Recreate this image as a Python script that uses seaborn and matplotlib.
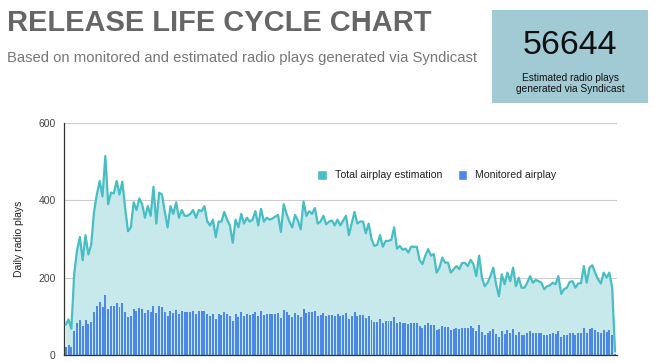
import matplotlib
matplotlib.use("Agg")
import matplotlib.pyplot as plt
from matplotlib.patches import Patch, Rectangle
import numpy as np
import pandas as pd
import seaborn as sns

# daily values, one per day
total_airplay = [
    78, 92, 68, 210, 270, 305, 245, 310, 260, 285, 370, 415, 450, 410, 515, 390, 420, 418, 450, 415,
    448, 380, 320, 330, 395, 375, 405, 390, 355, 385, 360, 435, 340, 420, 415, 370, 330, 385, 365, 395,
    355, 375, 360, 360, 365, 375, 355, 375, 372, 385, 345, 335, 350, 305, 345,
    345, 370, 350, 335, 290, 350, 330, 365, 340, 355, 345, 350, 372, 335, 378, 345, 355, 350, 353, 358,
    362, 318, 390, 365, 345, 330, 362, 348, 325, 397, 360, 372, 365, 380, 340, 345, 360, 338, 345, 348,
    335, 350, 335, 348, 360, 310, 340, 370, 340, 345, 345, 315, 340, 300, 282, 285, 310, 280, 295, 295,
    298, 330, 275, 282, 272, 275, 265, 280, 280, 280, 245,
    235, 257, 274, 257, 261, 213, 226, 252, 239, 239, 213, 222, 230, 222, 238, 238, 230, 246, 235, 204,
    257, 200, 178, 187, 204, 226, 183, 152, 209, 183, 213, 191, 226, 178, 200, 174, 174, 187, 204, 187,
    194, 191, 187, 170, 178, 180, 187, 183, 204, 158, 170, 174, 189, 191, 174, 185, 186, 230, 187, 226,
    232, 213, 196, 185, 213, 200, 213, 174, 9,
]
monitored_airplay = [
    20, 25, 20, 63, 82, 90, 75, 90, 80, 85, 110, 128, 137, 125, 155, 118, 128, 128, 135, 125,
    135, 110, 97, 100, 118, 113, 122, 118, 108, 117, 110, 128, 108, 127, 125, 112, 100, 113, 108, 117,
    107, 113, 110, 110, 112, 113, 107, 113, 113, 115, 105, 100, 107, 93, 105,
    104, 111, 105, 101, 87, 105, 99, 110, 102, 107, 104, 105, 112, 101, 113, 104, 107, 105, 106, 107,
    109, 95, 117, 110, 104, 99, 109, 104, 98, 119, 108, 112, 110, 114, 102, 104, 108, 101, 104, 104,
    101, 105, 101, 104, 108, 93, 102, 111, 102, 104, 104, 95, 102, 90, 85, 86, 93, 84, 89, 89,
    89, 99, 83, 85, 82, 83, 80, 84, 84, 84, 74,
    71, 77, 82, 77, 78, 64, 68, 76, 72, 72, 64, 67, 69, 67, 71, 71, 69, 74, 71, 61,
    77, 60, 53, 56, 61, 68, 55, 46, 63, 55, 64, 57, 68, 53, 60, 52, 52, 56, 61, 56,
    58, 57, 56, 51, 53, 54, 56, 55, 61, 47, 51, 52, 57, 57, 52, 56, 56, 69, 56, 68,
    70, 64, 59, 56, 64, 60, 64, 52, 3,
]
y_ticks = [0, 200, 400, 600]
total_plays = "56644"

df = pd.DataFrame({
    "day": np.arange(len(total_airplay)),
    "total": total_airplay,
    "monitored": monitored_airplay,
})

TEAL = "#47bec4"
FILL = "#c7e9eb"
BLUE = "#4d88e6"

sns.set_style("white")
plt.rcParams["font.family"] = ["Liberation Sans", "DejaVu Sans"]

fig = plt.figure(figsize=(6.54, 3.62), dpi=100)
ax = fig.add_axes([64 / 654, 7 / 362, 553 / 654, 232 / 362])

ax.fill_between(df["day"], df["total"], color=FILL, lw=0, zorder=1)
sns.barplot(data=df, x="day", y="monitored", native_scale=True, color=BLUE,
            width=0.7, saturation=1, linewidth=0, ax=ax, zorder=2)
sns.lineplot(data=df, x="day", y="total", color=TEAL, lw=1.6, ax=ax, zorder=3)

ax.set_xlim(-0.6, len(df) - 0.3)
ax.set_ylim(0, 600)
ax.set_yticks(y_ticks)
ax.set_yticklabels([str(t) for t in y_ticks], fontsize=7.5, color="#444444")
ax.set_xticks([])
ax.set_xlabel("")
ax.set_ylabel("Daily radio plays", fontsize=7.5, color="#222222", labelpad=10)
ax.tick_params(axis="y", length=0, pad=6)
ax.yaxis.grid(True, color="#cccccc", lw=0.8)
ax.set_axisbelow(True)
for side in ["top", "right"]:
    ax.spines[side].set_visible(False)
ax.spines["left"].set_color("#333333")
ax.spines["bottom"].set_color("#333333")
ax.spines["left"].set_linewidth(0.9)
ax.spines["bottom"].set_linewidth(0.9)

handles = [Patch(facecolor=TEAL, label="Total airplay estimation"),
           Patch(facecolor=BLUE, label="Monitored airplay")]
fig.legend(handles=handles, loc="center", bbox_to_anchor=(437 / 654, 1 - 175 / 362),
           ncol=2, frameon=False, fontsize=7.6, handlelength=0.9, handleheight=1.1,
           handletextpad=0.8, columnspacing=1.4, labelcolor="#222222")

# header
fig.text(7 / 654, 1 - 23 / 362, "RELEASE LIFE CYCLE CHART", fontsize=20.9,
         fontweight="bold", color="#666666", va="center", ha="left")
fig.text(7 / 654, 1 - 58 / 362,
         "Based on monitored and estimated radio plays generated via Syndicast",
         fontsize=10.7, color="#777777", va="center", ha="left")

fig.patches.append(Rectangle((492 / 654, 1 - 103 / 362), 156 / 654, 93 / 362,
                             transform=fig.transFigure, facecolor="#a2cad5",
                             edgecolor="none", zorder=0))
fig.text(570 / 654, 1 - 46 / 362, total_plays, fontsize=24.5, color="#111111",
         ha="center", va="center")
fig.text(570 / 654, 1 - 83.5 / 362, "Estimated radio plays\ngenerated via Syndicast",
         fontsize=7.3, color="#111111", ha="center", va="center", linespacing=1.2)

fig.savefig("out.png", dpi=100)
plt.close(fig)
